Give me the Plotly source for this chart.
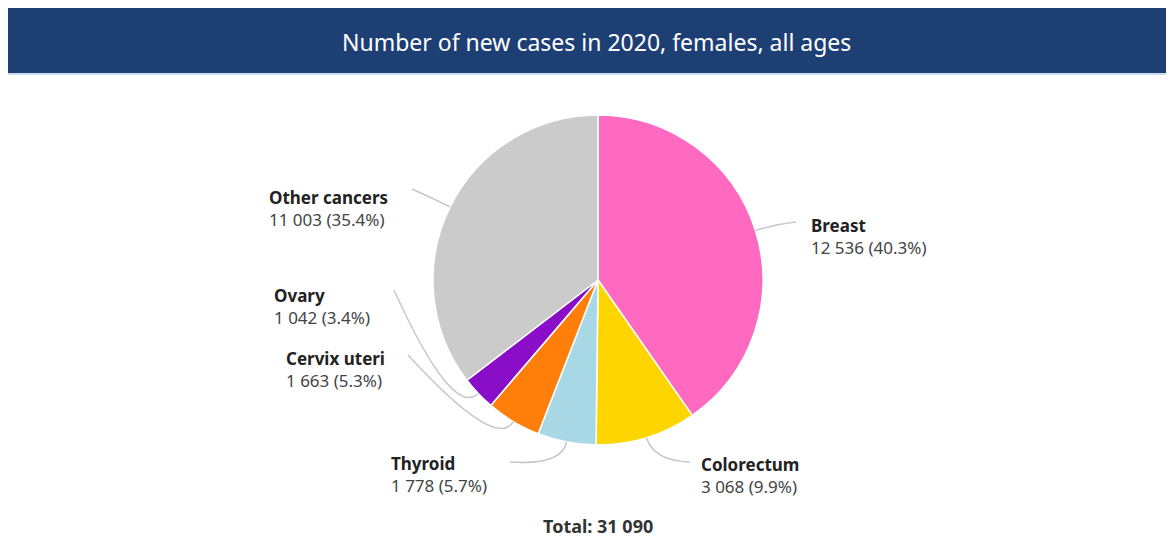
import math
import plotly.graph_objects as go

# Cancer sites, in clockwise order from 12 o'clock
sites = ["Breast", "Colorectum", "Thyroid", "Cervix uteri", "Ovary", "Other cancers"]
cases = [12536, 3068, 1778, 1663, 1042, 11003]
colors = ["#ff69c0", "#ffd500", "#a8d8e6", "#ff7f0a", "#8a0dc8", "#cbcbcb"]
title_text = "Number of new cases in 2020, females, all ages"

W, H = 1174, 543
CX, CY, R = 598, 280, 165  # pie centre and radius in pixels

# label anchor (left edge, vertical middle) and leader end point per site
label_xy = {
    "Breast": (809, 236),
    "Colorectum": (699, 475),
    "Thyroid": (389, 474),
    "Cervix uteri": (284, 369),
    "Ovary": (272, 306),
    "Other cancers": (267, 208),
}
leader_end = {
    "Breast": (796, 222),
    "Colorectum": (690, 462),
    "Thyroid": (510, 462),
    "Cervix uteri": (408, 355),
    "Ovary": (394, 290),
    "Other cancers": (412, 189),
}
leader_reach = {
    "Breast": 22, "Colorectum": 24, "Thyroid": 24,
    "Cervix uteri": 34, "Ovary": 36, "Other cancers": 22,
}

total = sum(cases)


def fmt(n):
    return f"{n:,}".replace(",", " ")


fig = go.Figure()

fig.add_trace(go.Pie(
    labels=sites,
    values=cases,
    sort=False,
    direction="clockwise",
    rotation=0,
    marker=dict(colors=colors, line=dict(color="white", width=1.5)),
    textinfo="none",
    hovertemplate="%{label}<br>%{value}<extra></extra>",
    domain=dict(x=[(CX - R) / W, (CX + R) / W],
                y=[(H - CY - R) / H, (H - CY + R) / H]),
    showlegend=False,
))

shapes = [
    # title bar
    dict(type="rect", xref="x", yref="y", x0=8, x1=1166, y0=8, y1=73,
         fillcolor="#1e3f74", line_width=0, layer="below"),
    dict(type="line", xref="x", yref="y", x0=8, x1=1166, y0=74, y1=74,
         line=dict(color="#b9d3ea", width=1.5)),
]

annotations = [
    dict(x=CX - 2, y=42, xref="x", yref="y", text=title_text, showarrow=False,
         font=dict(family="Noto Sans", size=23, color="white"),
         xanchor="center", yanchor="middle"),
    dict(x=CX, y=526, xref="x", yref="y", text=f"<b>Total: {fmt(total)}</b>",
         showarrow=False, font=dict(family="Noto Sans", size=18, color="#333333"),
         xanchor="center", yanchor="middle"),
]

cum = 0
for site, n in zip(sites, cases):
    frac_mid = (cum + n / 2) / total
    cum += n
    ang = 2 * math.pi * frac_mid
    sx, sy = math.sin(ang), -math.cos(ang)
    ex, ey = CX + R * sx, CY + R * sy
    k = R + leader_reach[site]
    qx, qy = CX + k * sx, CY + k * sy
    tx, ty = leader_end[site]
    shapes.append(dict(
        type="path", xref="x", yref="y",
        path=f"M {ex:.1f},{ey:.1f} Q {qx:.1f},{qy:.1f} {tx:.1f},{ty:.1f}",
        line=dict(color="#c4c6cc", width=1.4),
    ))
    lx, ly = label_xy[site]
    pct = 100 * n / total
    annotations.append(dict(
        x=lx, y=ly, xref="x", yref="y", showarrow=False,
        text=f"<b><span style='color:#222222'>{site}</span></b><br>{fmt(n)} ({pct:.1f}%)",
        align="left", xanchor="left", yanchor="middle",
        font=dict(family="Noto Sans", size=17, color="#444444"),
    ))

fig.update_layout(
    width=W, height=H,
    margin=dict(l=0, r=0, t=0, b=0),
    paper_bgcolor="white", plot_bgcolor="white",
    xaxis=dict(range=[0, W], visible=False, fixedrange=True),
    yaxis=dict(range=[H, 0], visible=False, fixedrange=True),
    shapes=shapes,
    annotations=annotations,
)

fig.write_html("out.html", config={"displayModeBar": False})
